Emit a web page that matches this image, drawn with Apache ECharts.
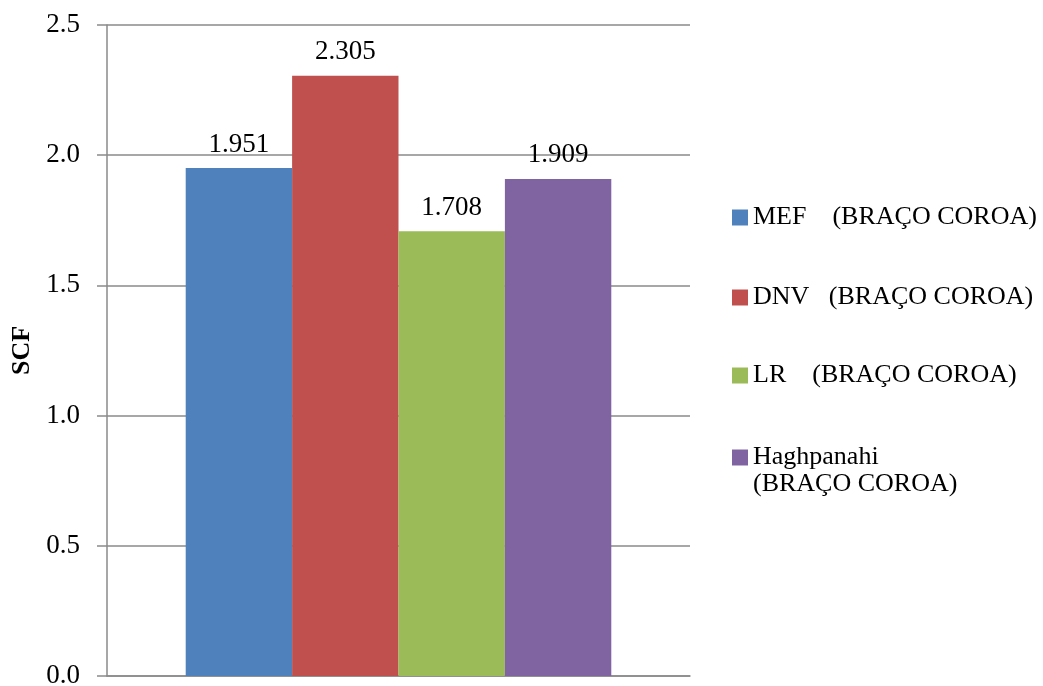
<!DOCTYPE html>
<html>
<head>
<meta charset="utf-8">
<title>SCF</title>
<script src="https://cdn.jsdelivr.net/npm/echarts@6/dist/echarts.min.js"></script>
<style>
  html, body { margin: 0; padding: 0; background: #fff; }
  #chart { width: 1043px; height: 686px; }
</style>
</head>
<body>
<div id="chart"></div>
<script>
// Chart data
const categories = [''];
const seriesNames = [
  'MEF    (BRAÇO COROA)',
  'DNV   (BRAÇO COROA)',
  'LR    (BRAÇO COROA)',
  'Haghpanahi (BRAÇO COROA)'
];
const scfValues = [1.951, 2.305, 1.708, 1.909];
const yTicks = ['0.0', '0.5', '1.0', '1.5', '2.0', '2.5'];

const colors = ['#4F81BD', '#C0504D', '#9BBB59', '#8064A2'];
const serif = '"Liberation Serif", "Times New Roman", serif';
const gridGray = '#8a8a8a';

const chart = echarts.init(document.getElementById('chart'), null, { renderer: 'canvas' });

// One legend block per series so each entry sits at its own height;
// the last entry wraps onto two lines with the swatch beside the first line.
const legendTops = [204, 284, 362, 417];
const legends = seriesNames.map((name, i) => ({
  data: [name],
  left: 732,
  top: legendTops[i],
  padding: 0,
  orient: 'vertical',
  icon: 'rect',
  itemWidth: 16,
  itemHeight: 16,
  selectedMode: false,
  formatter: (n) => i === 3 ? '\nHaghpanahi\n(BRAÇO COROA)' : n,
  textStyle: {
    fontFamily: serif,
    fontSize: 26,
    lineHeight: 27,
    color: '#000'
  }
}));

const series = seriesNames.map((name, i) => ({
  name: name,
  type: 'bar',
  data: [scfValues[i]],
  barGap: '0%',
  barCategoryGap: '27%',
  itemStyle: { color: colors[i] },
  label: {
    show: true,
    position: 'top',
    distance: 10,
    formatter: (p) => p.value.toFixed(3),
    fontFamily: serif,
    fontSize: 27,
    color: '#000'
  }
}));

chart.setOption({
  animation: false,
  backgroundColor: '#fff',
  color: colors,
  grid: {
    left: 107, right: 353, top: 25, bottom: 10,
    containLabel: false,
    outerBoundsMode: 'none'
  },
  legend: legends,
  xAxis: {
    type: 'category',
    data: categories,
    axisLine: { show: true, lineStyle: { color: gridGray, width: 1.5 } },
    axisTick: { show: false },
    axisLabel: { show: false },
    splitLine: { show: false }
  },
  yAxis: {
    type: 'value',
    min: 0,
    max: 2.5,
    interval: 0.5,
    name: 'SCF',
    nameLocation: 'middle',
    nameRotate: 90,
    nameGap: 71,
    nameTextStyle: {
      fontFamily: serif,
      fontSize: 26,
      fontWeight: 'bold',
      color: '#000'
    },
    axisLine: { show: true, lineStyle: { color: gridGray, width: 1.5 } },
    axisTick: { show: true, length: 10, inside: false, lineStyle: { color: gridGray, width: 1.5 } },
    axisLabel: {
      margin: 27,
      fontFamily: serif,
      fontSize: 27,
      color: '#000',
      formatter: (v) => yTicks[Math.round(v / 0.5)]
    },
    splitLine: { show: true, lineStyle: { color: gridGray, width: 1.5 } }
  },
  series: series
});
</script>
</body>
</html>
